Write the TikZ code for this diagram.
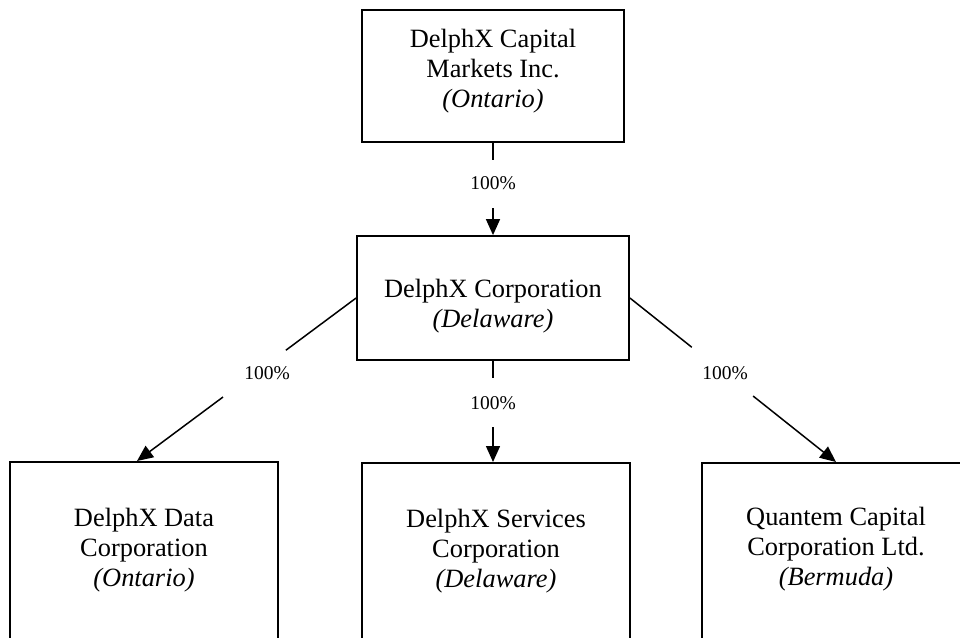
\documentclass[tikz,border=0pt]{standalone}
\usepackage{fontspec}
\setmainfont{Liberation Serif}
\usetikzlibrary{arrows.meta,calc}
\begin{document}
\begin{tikzpicture}[x=1pt,y=-1pt,
  box/.style={draw,line width=1.8pt,rectangle,inner sep=0pt},
  txt/.style={align=center,inner sep=0pt,font=\fontsize{26.4}{30}\selectfont},
  lbl/.style={inner sep=0pt,font=\fontsize{19.5}{23}\selectfont},
  gap/.style={circle,inner sep=0pt,minimum size=#1},
  ln/.style={line width=1.5pt},
  arr/.style={ln,-{Triangle[length=16pt,width=14pt]}}]
\useasboundingbox (0,0) rectangle (960,637);
\clip (0,0) rectangle (960,637);
% boxes
\node[box,minimum width=262pt,minimum height=132pt] (dcm) at (493,76) {};
\node[txt] (dcmT) at (493,71) {DelphX Capital\\Markets Inc.\\\textit{(Ontario)}};
\node[box,minimum width=272pt,minimum height=124pt] (corp) at (493,298) {};
\node[txt] (corpT) at (493,306) {DelphX Corporation\\\textit{(Delaware)}};
\node[box,minimum width=268pt,minimum height=300pt,anchor=north] (data) at (144,461) {};
\node[txt] (dataT) at (144,550) {DelphX Data\\Corporation\\\textit{(Ontario)}};
\node[box,minimum width=268pt,minimum height=300pt,anchor=north] (svc) at (496,462) {};
\node[txt] (svcT) at (496,551) {DelphX Services\\Corporation\\\textit{(Delaware)}};
\node[box,minimum width=268pt,minimum height=300pt,anchor=north] (quant) at (836,462) {};
\node[txt] (quantT) at (836,549) {Quantem Capital\\Corporation Ltd.\\\textit{(Bermuda)}};
% gaps round the labels
\coordinate (dataIn) at ([xshift=-7pt]data.north);
\node[gap=48pt] (gT) at (493,184) {};
\node[gap=49pt] (gM) at (493,402.5) {};
\node[gap=78pt] (gL) at ($(corp.west)!0.464!(dataIn)$) {};
\node[gap=78pt] (gR) at ($(corp.east)!0.449!(quant.north)$) {};
% labels
\node[lbl] (lT) at (493,183) {100\%};
\node[lbl] (lM) at (493,403) {100\%};
\node[lbl] (lL) at (267,373) {100\%};
\node[lbl] (lR) at (725,373) {100\%};
% connectors
\draw[ln] (dcm.south) -- (gT);
\draw[arr] (gT) -- (corp.north);
\draw[ln] (corp.south) -- (gM);
\draw[arr] (gM) -- (gM |- svc.north);
\draw[ln] (corp.west) -- (gL);
\draw[arr] (gL) -- (dataIn);
\draw[ln] (corp.east) -- (gR);
\draw[arr] (gR) -- (quant.north);
\end{tikzpicture}
\end{document}
